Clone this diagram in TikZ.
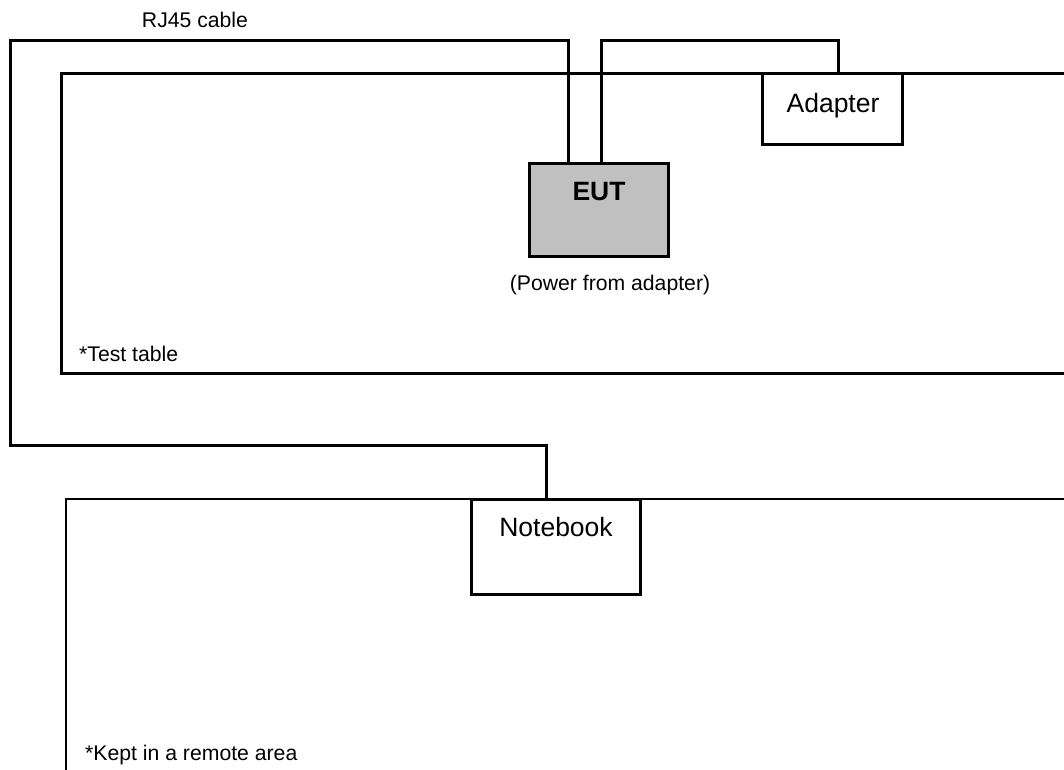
\documentclass[tikz,border=0pt]{standalone}
\usepackage{fontspec}
\setmainfont{Liberation Sans}
\usetikzlibrary{calc}
\definecolor{eutgray}{HTML}{C0C0C0}
\tikzset{
  wire/.style={line width=3pt, line join=miter},
  tableedge/.style={line width=3pt, line join=miter},
  devbox/.style={draw, line width=3pt, inner sep=0pt, outer sep=0pt},
  biglabel/.style={font=\fontsize{26.5}{30}\selectfont, anchor=base, inner sep=0pt},
  smalllabel/.style={font=\fontsize{21.2}{25}\selectfont, inner sep=0pt},
}
\begin{document}
\begin{tikzpicture}[x=1pt,y=-1pt]
\useasboundingbox (0,0) rectangle (1064,769);
% tables
\draw[tableedge] (1075,73) -- (61,73) -- (61,373) -- (1075,373);
\draw[line width=2.5pt, line join=miter] (1075,499) -- (66,499) -- (66,780);
% devices
\node[devbox, fill=eutgray, minimum width=139pt, minimum height=93pt] (EUT) at (598.5,209.5) {};
\node[devbox, fill=white, minimum width=140pt, minimum height=71pt] (Adapter) at (832.5,108.5) {};
\node[devbox, fill=white, minimum width=169pt, minimum height=95pt] (Notebook) at (555.5,546.5) {};
% box labels
\node[biglabel, font=\fontsize{26.5}{30}\selectfont\bfseries] (eutlab) at (599,200) {EUT};
\node[biglabel] (adlab) at (833,112) {Adapter};
\node[biglabel] (nblab) at (556,536) {Notebook};
% cable anchor coordinates
\coordinate (rjx) at (568,0);
\coordinate (pwx) at (601,0);
\coordinate (adx) at (838,0);
\coordinate (nbx) at (546,0);
\coordinate (rjtop) at (10,40);
\coordinate (rjbot) at (546,445);
% RJ45 cable
\draw[wire] (EUT.north -| rjx) |- (rjtop) |- (rjbot) -- (Notebook.north -| nbx);
% power cable
\draw[wire] (EUT.north -| pwx) |- ($(Adapter.north -| adx)+(0,-33)$) -- (Adapter.north -| adx);
% texts
\node[smalllabel] (rjlab) at (195,20) {RJ45 cable};
\node[smalllabel, anchor=base] (pwlab) at (610,290) {(Power from adapter)};
\node[smalllabel, anchor=base west] (ttlab) at (79,361) {*Test table};
\node[smalllabel, anchor=base west] (kalab) at (85,760) {*Kept in a remote area};
\end{tikzpicture}
\end{document}
